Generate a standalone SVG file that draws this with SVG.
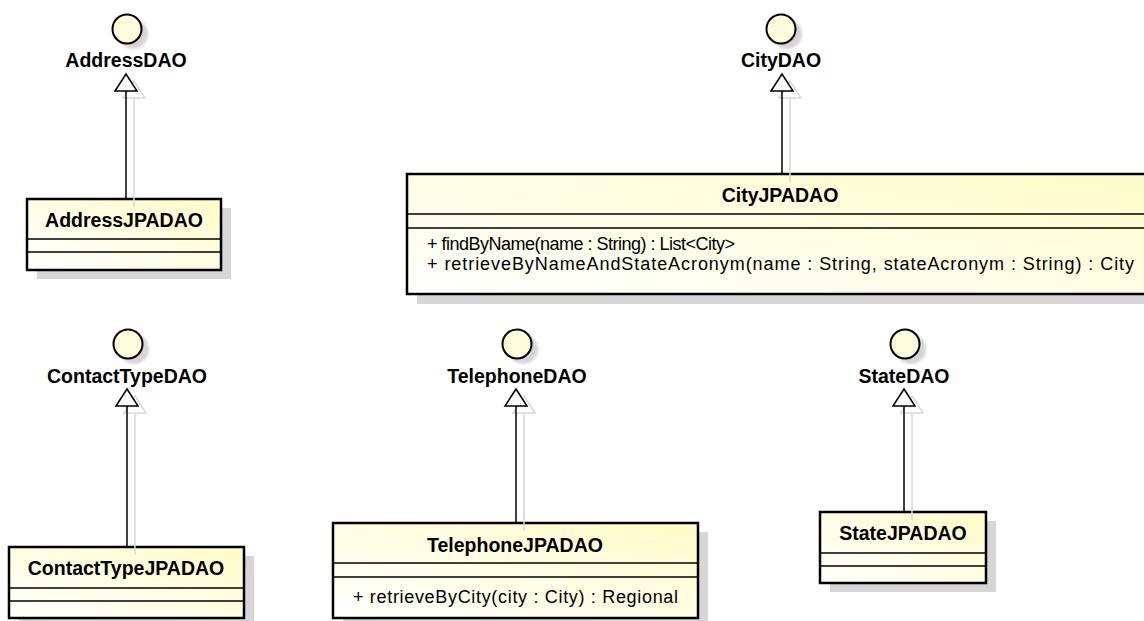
<svg xmlns="http://www.w3.org/2000/svg" width="1144" height="621" viewBox="0 0 1144 621">
<defs>
  <linearGradient id="boxfill" x1="0" y1="1" x2="1" y2="0">
    <stop offset="0" stop-color="#ffffff"/>
    <stop offset="1" stop-color="#fffcc8"/>
  </linearGradient>
  <filter id="blur" x="-50%" y="-50%" width="200%" height="200%">
    <feGaussianBlur stdDeviation="1.5"/>
  </filter>
  <marker id="tri" markerUnits="userSpaceOnUse" viewBox="0 0 20 24" markerWidth="20" markerHeight="24" refX="18" refY="12" orient="auto" overflow="visible">
    <path d="M1,1 L18,12 L1,23 Z" fill="#ffffff" stroke="#000000" stroke-width="1.5"/>
  </marker>
  <marker id="trishadow" markerUnits="userSpaceOnUse" viewBox="0 0 20 24" markerWidth="20" markerHeight="24" refX="18" refY="12" orient="auto" overflow="visible">
    <path d="M1,1 L18,12 L1,23 Z" fill="#ffffff" stroke="#d9d9d9" stroke-width="1.5"/>
  </marker>
</defs>
<style>
  .box { fill: url(#boxfill); stroke: #000; stroke-width: 2.5; }
  .shadow { fill: #d6d6d6; }
  .sep { stroke: #000; stroke-width: 1.5; }
  .iface { fill: #fffbdc; stroke: #000; stroke-width: 2; }
  .ishadow { fill: #d4d4d4; filter: url(#blur); }
  .name { font-family: "Liberation Sans", Arial, sans-serif; font-weight: bold; font-size: 19.5px; fill: #000; text-anchor: middle; }
  .op { font-family: "Liberation Sans", Arial, sans-serif; font-size: 18px; fill: #000; }
  .conn { stroke: #000; stroke-width: 1.5; fill: none; marker-end: url(#tri); }
  .connshadow { stroke: #d9d9d9; stroke-width: 1.5; fill: none; marker-end: url(#trishadow); }
</style>

<!-- Interfaces -->
<g id="AddressDAO">
  <circle class="ishadow" cx="133" cy="34" r="15"/>
  <circle class="iface" cx="127" cy="29" r="14.5"/>
  <text class="name" x="126" y="67">AddressDAO</text>
</g>
<g id="CityDAO">
  <circle class="ishadow" cx="787" cy="34" r="15"/>
  <circle class="iface" cx="781" cy="29" r="14.5"/>
  <text class="name" x="781" y="67">CityDAO</text>
</g>
<g id="ContactTypeDAO">
  <circle class="ishadow" cx="134" cy="349" r="15"/>
  <circle class="iface" cx="128" cy="344" r="14.5"/>
  <text class="name" x="127" y="383">ContactTypeDAO</text>
</g>
<g id="TelephoneDAO">
  <circle class="ishadow" cx="523" cy="349" r="15"/>
  <circle class="iface" cx="517" cy="344" r="14.5"/>
  <text class="name" x="517" y="383">TelephoneDAO</text>
</g>
<g id="StateDAO">
  <circle class="ishadow" cx="911" cy="349" r="15"/>
  <circle class="iface" cx="905" cy="344" r="14.5"/>
  <text class="name" x="904" y="383">StateDAO</text>
</g>

<!-- Classes -->
<g id="AddressJPADAO">
  <rect class="shadow" x="37" y="208" width="194" height="71"/>
  <rect class="box" x="27" y="199" width="194" height="71"/>
  <line class="sep" x1="27" y1="239" x2="221" y2="239"/>
  <line class="sep" x1="27" y1="252" x2="221" y2="252"/>
  <text class="name" x="124" y="227">AddressJPADAO</text>
</g>
<g id="CityJPADAO">
  <rect class="shadow" x="417" y="183" width="746" height="121"/>
  <rect class="box" x="407" y="174" width="746" height="120"/>
  <line class="sep" x1="407" y1="214" x2="1153" y2="214"/>
  <line class="sep" x1="407" y1="228" x2="1153" y2="228"/>
  <text class="name" x="780" y="202">CityJPADAO</text>
  <text class="op" x="427" y="250" textLength="308" lengthAdjust="spacing">+ findByName(name : String) : List&lt;City&gt;</text>
  <text class="op" x="427" y="270" textLength="707" lengthAdjust="spacing">+ retrieveByNameAndStateAcronym(name : String, stateAcronym : String) : City</text>
</g>
<g id="ContactTypeJPADAO">
  <rect class="shadow" x="19" y="556" width="235" height="71"/>
  <rect class="box" x="9" y="547" width="235" height="71"/>
  <line class="sep" x1="9" y1="588" x2="244" y2="588"/>
  <line class="sep" x1="9" y1="601" x2="244" y2="601"/>
  <text class="name" x="126" y="575">ContactTypeJPADAO</text>
</g>
<g id="TelephoneJPADAO">
  <rect class="shadow" x="343" y="532" width="365" height="95"/>
  <rect class="box" x="333" y="523" width="365" height="95"/>
  <line class="sep" x1="333" y1="563" x2="698" y2="563"/>
  <line class="sep" x1="333" y1="577" x2="698" y2="577"/>
  <text class="name" x="515" y="552">TelephoneJPADAO</text>
  <text class="op" x="353" y="603" textLength="325" lengthAdjust="spacing">+ retrieveByCity(city : City) : Regional</text>
</g>
<g id="StateJPADAO">
  <rect class="shadow" x="830" y="521" width="166" height="71"/>
  <rect class="box" x="820" y="512" width="166" height="71"/>
  <line class="sep" x1="820" y1="553" x2="986" y2="553"/>
  <line class="sep" x1="820" y1="566" x2="986" y2="566"/>
  <text class="name" x="903" y="540">StateJPADAO</text>
</g>

<!-- Connectors -->
<g id="connectors">
  <g id="connector-shadows">
    <path class="connshadow" d="M134,207 L134,81"/>
    <path class="connshadow" d="M790,182 L790,81"/>
    <path class="connshadow" d="M135,555 L135,396"/>
    <path class="connshadow" d="M524,531 L524,396"/>
    <path class="connshadow" d="M912,520 L912,396"/>
  </g>
  <path class="conn" d="M126,199 L126,74"/>
  <path class="conn" d="M782,174 L782,74"/>
  <path class="conn" d="M127,547 L127,389"/>
  <path class="conn" d="M516,523 L516,389"/>
  <path class="conn" d="M904,512 L904,389"/>
</g>
</svg>
